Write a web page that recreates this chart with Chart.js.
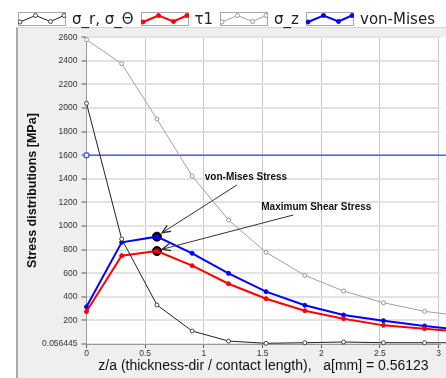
<!DOCTYPE html>
<html>
<head>
<meta charset="utf-8">
<script src="https://cdn.jsdelivr.net/npm/chart.js@4"></script>
<style>
  html, body { margin: 0; padding: 0; background: #fff; overflow: hidden; }
  #wrap { position: relative; width: 446px; height: 378px; }
  #legend { position: absolute; left: 18px; top: 12px; display: flex; align-items: center; height: 14px; }
  #legend canvas { display: block; }
  #legend span { font: 15px "DejaVu Sans", sans-serif; color: #222; margin: 0 7px 0 6px; white-space: nowrap; line-height: 14px; }
</style>
</head>
<body>
<div id="wrap">
  <canvas id="stressChart" width="446" height="378"></canvas>
  <div id="legend"></div>
</div>
<script>
// z/a positions and stress values [MPa]
const zPos = [0, 0.3, 0.6, 0.9, 1.21, 1.53, 1.86, 2.19, 2.53, 2.88, 3.24];
const sigmaR = [2040, 890, 331, 110, 25, 6, 11, 17, 11, 11, 10];
const tau1 = [275, 749, 788, 664, 511, 384, 282, 214, 158, 130, 101];
const sigmaZ = [2580, 2376, 1907, 1424, 1051, 777, 582, 449, 350, 277, 232];
const vonMises = [315, 862, 910, 769, 599, 444, 328, 246, 198, 153, 113];
const refLevel = 1600;
const peakIndex = 2;

const yTicks = [0.056445, 200, 400, 600, 800, 1000, 1200, 1400, 1600, 1800, 2000, 2200, 2400, 2600];
const xTicks = [0, 0.5, 1, 1.5, 2, 2.5, 3];

const notes = [
    { text: 'von-Mises Stress', tx: 1.008, ty: 1413, from: [1.282, 1348], to: [0.644, 943] },
    { text: 'Maximum Shear Stress', tx: 1.489, ty: 1159, from: [1.763, 1094], to: [0.644, 803] }
];

const series = [
    { label: 'σ_r, σ_Θ', data: sigmaR, color: '#222', width: 1, open: true, mark: '#444' },
    { label: 'τ1', data: tau1, color: '#ff0000', width: 2, open: false, mark: '#ff0000' },
    { label: 'σ_z', data: sigmaZ, color: '#a0a0a0', width: 1, open: true, mark: '#999' },
    { label: 'von-Mises', data: vonMises, color: '#0000ff', width: 2, open: false, mark: '#0000ff' }
];

const pts = arr => arr.map((v, i) => ({ x: zPos[i], y: v }));

// legend built in html, little zigzag samples
const legend = document.getElementById('legend');
series.forEach(s => {
    const c = document.createElement('canvas');
    c.width = 48; c.height = 14;
    const g = c.getContext('2d');
    g.fillStyle = '#fff';
    g.fillRect(0, 0, 48, 14);
    g.strokeStyle = '#a8a8a8';
    g.lineWidth = 1;
    g.strokeRect(0.5, 0.5, 47, 13);
    const zz = [[2, 10], [17.5, 3.5], [32.5, 9.5], [46, 3.5]];
    g.strokeStyle = s.color;
    g.lineWidth = s.width;
    g.beginPath();
    zz.forEach((p, i) => i ? g.lineTo(p[0], p[1]) : g.moveTo(p[0], p[1]));
    g.stroke();
    zz.forEach(p => {
        g.beginPath();
        g.arc(p[0], p[1], 2, 0, Math.PI * 2);
        g.fillStyle = s.open ? '#fff' : s.mark;
        g.fill();
        g.lineWidth = 1;
        g.strokeStyle = s.mark;
        g.stroke();
    });
    legend.appendChild(c);
    const sp = document.createElement('span');
    sp.textContent = s.label;
    legend.appendChild(sp);
});

const datasets = series.map(s => ({
    label: s.label,
    data: pts(s.data),
    borderColor: s.color,
    borderWidth: s.width,
    pointRadius: 2,
    pointBorderWidth: 1,
    pointBorderColor: s.mark,
    pointBackgroundColor: s.open ? '#fff' : s.mark,
    tension: 0,
    clip: false
}));

datasets.push({
    label: 'ref',
    data: [{ x: 0, y: refLevel }, { x: zPos[zPos.length - 1], y: refLevel }],
    borderColor: '#5a5aff',
    borderWidth: 1.5,
    pointRadius: [2.5, 0],
    pointBorderColor: '#5a5aff',
    pointBackgroundColor: '#fff',
    clip: false
});

datasets.push({
    label: 'peaks',
    data: [{ x: zPos[peakIndex], y: vonMises[peakIndex] }, { x: zPos[peakIndex], y: tau1[peakIndex] }],
    showLine: false,
    pointRadius: 4.5,
    pointBackgroundColor: ['#000', '#200'],
    pointBorderColor: '#000',
    pointBorderWidth: 1,
    clip: false
});

const panelBg = {
    id: 'panelBg',
    beforeDraw(chart) {
        const { ctx, width, height, chartArea } = chart;
        ctx.save();
        ctx.fillStyle = '#fff';
        ctx.fillRect(0, 0, width, height);
        ctx.fillStyle = '#efefef';
        ctx.fillRect(16, 28, width - 16, height - 28);
        ctx.strokeStyle = '#d8d8d8';
        ctx.lineWidth = 1;
        ctx.beginPath();
        ctx.moveTo(16, 27.5); ctx.lineTo(width, 27.5);
        ctx.stroke();
        ctx.strokeStyle = '#a8a8a8';
        ctx.lineWidth = 2;
        ctx.beginPath();
        ctx.moveTo(17, 28); ctx.lineTo(17, height);
        ctx.stroke();
        ctx.fillStyle = '#fff';
        ctx.fillRect(chartArea.left, chartArea.top, width - chartArea.left, chartArea.bottom - chartArea.top);
        ctx.restore();
    }
};

const callouts = {
    id: 'callouts',
    afterDatasetsDraw(chart) {
        const { ctx, scales } = chart;
        const X = v => scales.x.getPixelForValue(v);
        const Y = v => scales.y.getPixelForValue(v);
        ctx.save();
        ctx.strokeStyle = '#333';
        ctx.fillStyle = '#111';
        ctx.lineWidth = 1;
        ctx.font = 'bold 10px "Liberation Sans", Arial, sans-serif';
        ctx.textBaseline = 'middle';
        notes.forEach(n => {
            ctx.fillText(n.text, X(n.tx), Y(n.ty));
            const x1 = X(n.from[0]), y1 = Y(n.from[1]);
            const x2 = X(n.to[0]), y2 = Y(n.to[1]);
            ctx.beginPath();
            ctx.moveTo(x1, y1); ctx.lineTo(x2, y2);
            ctx.stroke();
            const a = Math.atan2(y1 - y2, x1 - x2);
            ctx.lineWidth = 1.4;
            ctx.beginPath();
            ctx.moveTo(x2 + 9 * Math.cos(a - 0.4), y2 + 9 * Math.sin(a - 0.4));
            ctx.lineTo(x2, y2);
            ctx.lineTo(x2 + 9 * Math.cos(a + 0.4), y2 + 9 * Math.sin(a + 0.4));
            ctx.stroke();
            ctx.lineWidth = 1;
        });
        ctx.restore();
    }
};

const tickFont = { family: '"Liberation Sans", Arial, sans-serif', size: 8.5 };

new Chart(document.getElementById('stressChart'), {
    type: 'line',
    data: { datasets: datasets },
    options: {
        responsive: false,
        animation: false,
        layout: { padding: { left: 0, right: 0, top: 37.3, bottom: 0 } },
        plugins: {
            legend: { display: false },
            tooltip: { enabled: false }
        },
        scales: {
            x: {
                type: 'linear',
                min: 0,
                max: 3.016,
                afterBuildTicks: s => { s.ticks = xTicks.map(v => ({ value: v })); },
                afterFit: s => { s.height = 34; s.paddingRight = 0; s.paddingLeft = 0; },
                ticks: { font: tickFont, color: '#333', padding: 1, maxRotation: 0, autoSkip: false, callback: v => String(v) },
                grid: { color: '#c8c8c8', lineWidth: 1, tickLength: 4, tickColor: '#555' },
                border: { color: '#999' },
                title: {
                    display: true,
                    text: 'z/a (thickness-dir / contact length),   a[mm] = 0.56123',
                    font: { family: '"Liberation Sans", Arial, sans-serif', size: 14 },
                    color: '#111',
                    padding: { top: 0, bottom: 3 }
                }
            },
            y: {
                type: 'linear',
                min: yTicks[0],
                max: 2600,
                afterBuildTicks: s => { s.ticks = yTicks.map(v => ({ value: v })); },
                afterFit: s => { s.width = 86.5; },
                ticks: { font: tickFont, color: '#333', padding: 4, autoSkip: false, callback: v => String(v) },
                grid: { color: '#e2e2e2', lineWidth: 2, tickLength: 5, tickColor: '#555', tickWidth: 1 },
                border: { color: '#999' },
                title: {
                    display: true,
                    text: 'Stress distributions [MPa]',
                    font: { family: '"Liberation Sans", Arial, sans-serif', size: 12.5, weight: 'bold' },
                    color: '#111',
                    padding: { top: 25, bottom: 0 }
                }
            }
        }
    },
    plugins: [panelBg, callouts]
});
</script>
</body>
</html>
